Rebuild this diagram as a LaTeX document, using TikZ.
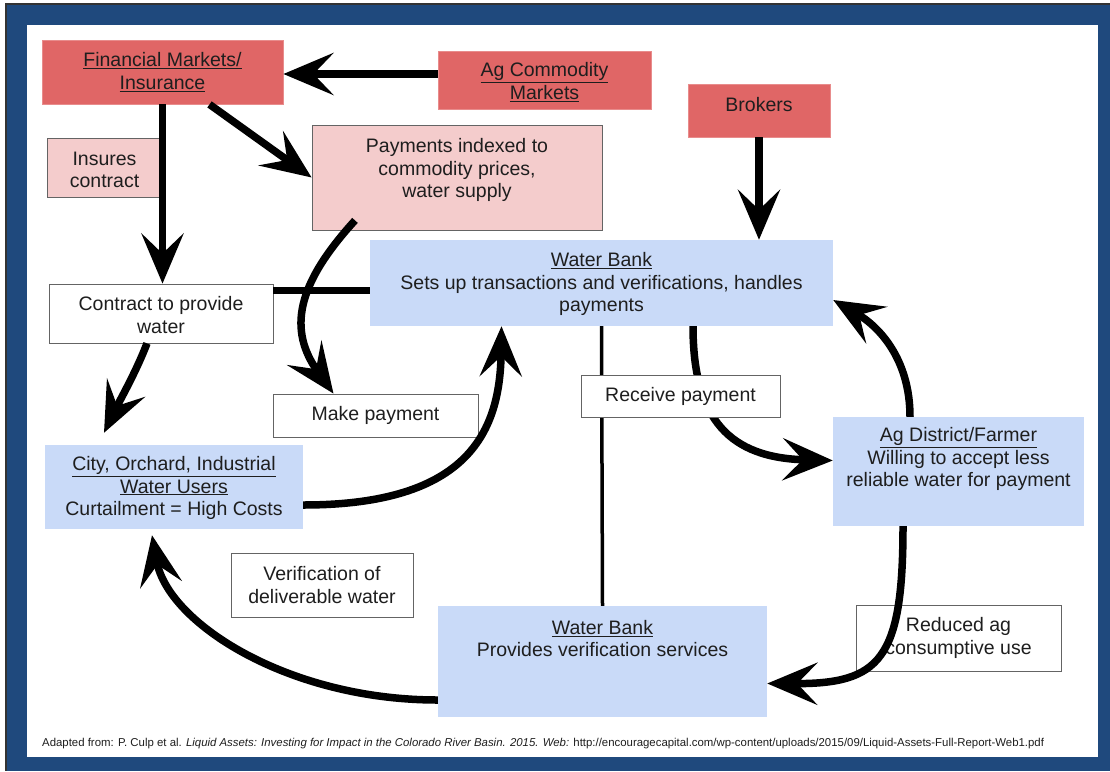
\documentclass[tikz,border=0pt]{standalone}
\usepackage{fontspec}
\setmainfont{Liberation Sans}
\usetikzlibrary{arrows.meta}
\definecolor{frameblue}{RGB}{31,73,125}
\definecolor{boxred}{RGB}{224,102,102}
\definecolor{redline}{RGB}{232,140,140}
\definecolor{boxpink}{RGB}{244,204,204}
\definecolor{boxblue}{RGB}{201,218,248}
\definecolor{bordergray}{RGB}{100,100,100}
\definecolor{textcol}{RGB}{30,30,30}
\pgfdeclarelayer{framelayer}
\pgfdeclarelayer{bg}
\pgfsetlayers{framelayer,bg,main}
\begin{document}
\begin{tikzpicture}[x=1pt,y=-1pt,
  redbox/.style={draw=redline,line width=0.8pt,fill=boxred,inner sep=0},
  pinkbox/.style={draw=bordergray,line width=0.8pt,fill=boxpink,inner sep=0},
  bluebox/.style={draw=none,fill=boxblue,inner sep=0},
  whitebox/.style={draw=bordergray,line width=0.8pt,fill=white,inner sep=0},
  txt/.style={align=center,font=\fontsize{19.5}{22.5}\selectfont,text=textcol,inner sep=0},
  arr/.style={line width=7.5pt,-{Stealth[length=50pt,width=42pt,inset=20pt]}},
  plainline/.style={line width=7pt},
  thinline/.style={line width=3.5pt}]
% frame
\useasboundingbox (0,0) rectangle (1110,771);
\begin{pgfonlayer}{framelayer}
\fill[white] (0,0) rectangle (1110,771);
\fill[black!80] (5,3) rectangle (1110,771);
\fill[frameblue] (7,5) rectangle (1110,771);
\fill[white] (27,25) rectangle (1098,757);
\end{pgfonlayer}

% boxes
\node[redbox,minimum width=241pt,minimum height=64pt] (fin) at (162.5,72) {};
\node[txt] (fint) at (162.5,72) {\underline{Financial Markets/}\\\underline{Insurance}};
\node[redbox,minimum width=213pt,minimum height=58pt] (agc) at (544.5,80) {};
\node[txt] (agct) at (544.5,82) {\underline{Ag Commodity}\\\underline{Markets}};
\node[redbox,minimum width=142pt,minimum height=53pt] (brk) at (759,110.5) {};
\node[txt] (brkt) at (759,105) {Brokers};
\node[pinkbox,minimum width=290pt,minimum height=105pt] (pay) at (457,177.5) {};
\node[txt] (payt) at (457,170) {Payments indexed to\\commodity prices,\\water supply};
\node[pinkbox,minimum width=115pt,minimum height=59pt] (ins) at (104.5,167.5) {};
\node[txt] (inst) at (104.5,170) {Insures\\contract};
\node[bluebox,minimum width=463pt,minimum height=86pt] (wb1) at (601.5,283) {};
\node[txt] (wb1t) at (601.5,284) {\underline{Water Bank}\\Sets up transactions and verifications, handles\\payments};
\node[whitebox,minimum width=224pt,minimum height=59pt] (con) at (161,313.5) {};
\node[txt] (cont) at (161,315) {Contract to provide\\water};
\node[whitebox,minimum width=205pt,minimum height=43pt] (mkp) at (375.5,415.5) {};
\node[txt] (mkpt) at (375.5,415.5) {Make payment};
\node[whitebox,minimum width=199pt,minimum height=42pt] (rcv) at (680.5,396) {};
\node[txt] (rcvt) at (680.5,396) {Receive payment};
\node[bluebox,minimum width=251pt,minimum height=109pt] (agd) at (958.5,471.5) {};
\node[txt] (agdt) at (958.5,459) {\underline{Ag District/Farmer}\\Willing to accept less\\reliable water for payment};
\node[bluebox,minimum width=258pt,minimum height=84pt] (city) at (174,487) {};
\node[txt] (cityt) at (174,488) {\underline{City, Orchard, Industrial}\\\underline{Water Users}\\Curtailment = High Costs};
\node[whitebox,minimum width=182pt,minimum height=64pt] (ver) at (322,585) {};
\node[txt] (vert) at (322,585) {Verification of\\deliverable water};
\node[bluebox,minimum width=329pt,minimum height=111pt] (wb2) at (602.5,661.5) {};
\node[txt] (wb2t) at (602.5,638.5) {\underline{Water Bank}\\Provides verification services};
\node[whitebox,minimum width=205pt,minimum height=66pt] (red) at (958.5,638) {};
\node[txt] (redt) at (958.5,638) {Reduced ag\\consumptive use};

% connectors
\begin{pgfonlayer}{bg}
\draw[thinline] (wb1.south) -- (wb2.north);
\draw[arr] ([xshift=91.5pt]wb1.south) .. controls (693,420) and (730,458) .. ([yshift=11pt]agd.west);
\end{pgfonlayer}
\draw[arr] ([yshift=6pt]agc.west) -- ([yshift=6pt]agc.west -| fin.east);
\draw[arr] ([xshift=47pt]fin.south) -- (pay.west);
\draw[arr] (fin.south) -- (fin.south |- con.north);
\draw[arr] (brk.south) -- (brk.south |- wb1.north);
\draw[plainline] ([yshift=23pt]con.east) -- ([yshift=23pt]con.east -| wb1.west);
\draw[arr] ([xshift=-14pt]con.south) .. controls (136,372) and (120,400) .. ([xshift=-70pt,yshift=12pt]city.north);
\draw[arr] ([xshift=-102pt,yshift=10pt]pay.south) .. controls (296,285) and (288,330) .. ([xshift=-42pt]mkp.north);
\draw[arr] ([yshift=-18pt]city.east) .. controls (470,505) and (500,430) .. ([xshift=-100pt]wb1.south);
\draw[arr] ([xshift=-48.5pt]agd.north) .. controls (910,360) and (880,327) .. ([yshift=-17pt]wb1.east);
\draw[arr] ([xshift=-55.5pt]agd.south) .. controls (903,660) and (880,684) .. ([yshift=-22pt]wb2.east);
\draw[arr] ([yshift=-38.5pt]wb2.west) .. controls (288,700) and (168,623) .. ([xshift=-22pt,yshift=-6pt]city.south);

% footer
\node[anchor=west,inner sep=0,text=textcol,font=\fontsize{11.4}{13}\selectfont] (foot) at (42,744) {Adapted from: P. Culp et al. \textit{Liquid Assets: Investing for Impact in the Colorado River Basin. 2015. Web:} http://encouragecapital.com/wp-content/uploads/2015/09/Liquid-Assets-Full-Report-Web1.pdf};
\end{tikzpicture}
\end{document}
